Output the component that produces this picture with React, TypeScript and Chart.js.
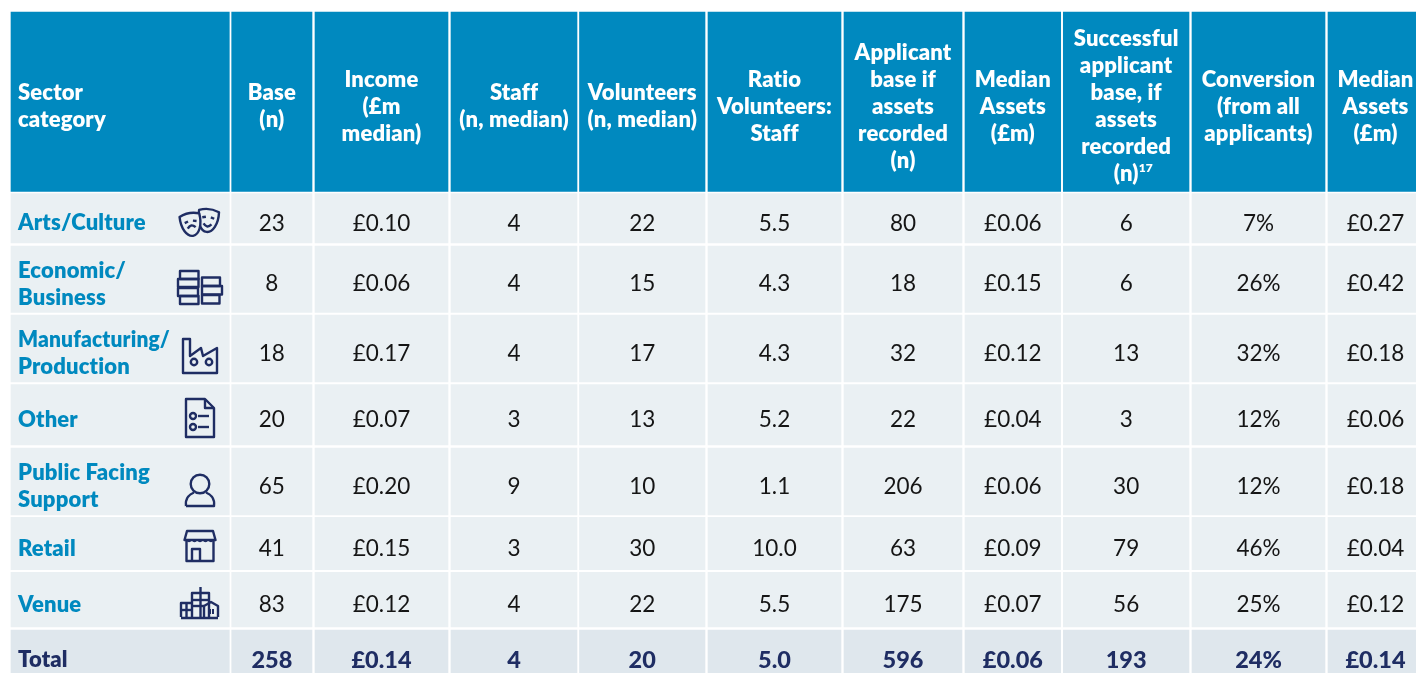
import React, { useEffect, useRef } from "react";
import { Chart, registerables } from "chart.js";

Chart.register(...registerables);

const sectorLabels = [["Arts/Culture"], ["Economic/", "Business"], ["Manufacturing/", "Production"], ["Other"], ["Public Facing", "Support"], ["Retail"], ["Venue"], ["Total"]];
const columnHeaders = [
  ["Sector", "category"],
  ["Base", "(n)"],
  ["Income", "(£m", "median)"],
  ["Staff", "(n, median)"],
  ["Volunteers", "(n, median)"],
  ["Ratio", "Volunteers:", "Staff"],
  ["Applicant", "base if", "assets", "recorded", "(n)"],
  ["Median", "Assets", "(£m)"],
  ["Successful", "applicant", "base, if", "assets", "recorded", "(n)"],
  ["Conversion", "(from all", "applicants)"],
  ["Median", "Assets", "(£m)"],
];
const base = ["23", "8", "18", "20", "65", "41", "83", "258"];
const income = ["£0.10", "£0.06", "£0.17", "£0.07", "£0.20", "£0.15", "£0.12", "£0.14"];
const staff = ["4", "4", "4", "3", "9", "3", "4", "4"];
const volunteers = ["22", "15", "17", "13", "10", "30", "22", "20"];
const ratio = ["5.5", "4.3", "4.3", "5.2", "1.1", "10.0", "5.5", "5.0"];
const applicantBase = ["80", "18", "32", "22", "206", "63", "175", "596"];
const medianAssetsApplicants = ["£0.06", "£0.15", "£0.12", "£0.04", "£0.06", "£0.09", "£0.07", "£0.06"];
const successfulBase = ["6", "6", "13", "3", "30", "79", "56", "193"];
const conversion = ["7%", "26%", "32%", "12%", "12%", "46%", "25%", "24%"];
const medianAssetsSuccessful = ["£0.27", "£0.42", "£0.18", "£0.06", "£0.18", "£0.04", "£0.12", "£0.14"];
const columns = [base, income, staff, volunteers, ratio, applicantBase, medianAssetsApplicants, successfulBase, conversion, medianAssetsSuccessful];

// table grid, in the units of the two linear scales
const colEdges = [[11, 229.3], [231.7, 312], [315, 448], [451, 577], [579.5, 705], [708, 841], [844, 962], [965, 1060.7], [1063.3, 1189], [1192, 1325], [1328, 1423]];
const rowEdges = [[12, 191.5], [193.5, 243], [246, 312.3], [315, 382], [384.7, 445], [448, 515], [517.3, 569.7], [572.3, 627], [630, 688]];

const HEADER = "#0089BF";
const CELL = "#EAF0F3";
const TOTAL = "#DFE7ED";
const NAVY = "#1F2D63";
const BODY = "#151515";
const FONT = "Lato";

type C = CanvasRenderingContext2D;
const line = (c: C, pts: number[][], close = false) => {
  c.beginPath();
  pts.forEach((p, i) => (i ? c.lineTo(p[0], p[1]) : c.moveTo(p[0], p[1])));
  if (close) c.closePath();
  c.stroke();
};
const ring = (c: C, x: number, y: number, r: number) => {
  c.beginPath();
  c.arc(x, y, r, 0, Math.PI * 2);
  c.stroke();
};
const mask = (c: C, x: number, y: number, rot: number, mouth: number) => {
  c.save();
  c.translate(x, y);
  c.rotate(rot);
  c.beginPath();
  c.moveTo(-10, -9);
  c.quadraticCurveTo(0, -13, 10, -9);
  c.bezierCurveTo(11, 3, 6, 12, 0, 12);
  c.bezierCurveTo(-6, 12, -11, 3, -10, -9);
  c.closePath();
  c.fillStyle = CELL;
  c.fill();
  c.stroke();
  line(c, [[-6, -2], [-2.5, -3]]);
  line(c, [[2.5, -3], [6, -2]]);
  c.beginPath();
  c.moveTo(-4, 4);
  c.quadraticCurveTo(0, 4 + mouth, 4, 4);
  c.stroke();
  c.restore();
};
const icons: ((c: C) => void)[] = [
  (c) => {
    mask(c, 8, -2, 0.12, 5);
    mask(c, -9, 2, -0.18, -5);
  },
  (c) => {
    [[-20, -17, 18.5], [-22, -9, 20.5], [-22, 0, 20], [-20, 8, 18.5]].forEach((r) => c.strokeRect(r[0], r[1], r[2], 8));
    [[2, -10.5, 18], [2, -2, 20], [2, 7, 17.5]].forEach((r) => c.strokeRect(r[0], r[1], r[2], 8.5));
  },
  (c) => {
    line(c, [[-17, -17], [-10, -17], [-10, 0], [1, -8], [3, 0], [17, -8], [17, 17], [-17, 17]], true);
    ring(c, -6, 6, 3.2);
    ring(c, 9, 6, 3.2);
  },
  (c) => {
    line(c, [[-14, -19], [5, -19], [14, -10], [14, 19], [-14, 19]], true);
    line(c, [[5, -19], [5, -10], [14, -10]]);
    ring(c, -7, -2, 3);
    line(c, [[-2, -2], [9, -2]]);
    ring(c, -7, 9, 3);
    line(c, [[-2, 9], [9, 9]]);
  },
  (c) => {
    ring(c, 0, -7, 9.3);
    c.beginPath();
    c.moveTo(-14, 15);
    c.bezierCurveTo(-15, 7, -10, 3, -6, 1.5);
    c.moveTo(6, 1.5);
    c.bezierCurveTo(10, 3, 15, 7, 14, 15);
    c.lineTo(-14, 15);
    c.stroke();
  },
  (c) => {
    line(c, [[-13, -15], [13, -15], [15.5, -6], [-15.5, -6]], true);
    c.fillStyle = NAVY;
    [-11, -5.5, 0, 5.5, 11].forEach((x) => {
      c.beginPath();
      c.arc(x, -6, 2.2, 0, Math.PI);
      c.fill();
    });
    line(c, [[-13.5, -5], [-13.5, 15], [13.5, 15], [13.5, -5]]);
    line(c, [[-8, 15], [-8, 3], [0, 3], [0, 15]]);
  },
  (c) => {
    line(c, [[-8, 14], [-8, -10], [9, -10], [9, 14]]);
    line(c, [[0.5, -10], [0.5, -16]]);
    line(c, [[-8, -3], [9, -3]]);
    line(c, [[-8, 3], [4, 3]]);
    line(c, [[0.5, -10], [0.5, 14]]);
    line(c, [[-19, 14], [-19, 0], [-8, 0]]);
    line(c, [[-19, 7], [-8, 7]]);
    line(c, [[-13.5, 0], [-13.5, 14]]);
    line(c, [[4, 14], [4, 3], [11, -1], [18, 3], [18, 14]]);
    line(c, [[-19, 15], [18, 15]]);
    c.fillStyle = NAVY;
    c.fillRect(9, 6, 2, 5);
    c.fillRect(12, 6, 2, 5);
  },
];
const iconX = 200;
const iconY = [222, 288, 356, 418, 491, 546, 603];

const cellTextPlugin = {
  id: "cellText",
  afterDatasetsDraw(chart: any) {
    const { ctx, scales } = chart;
    const X = (v: number) => scales.x.getPixelForValue(v);
    const Y = (v: number) => scales.y.getPixelForValue(v);
    const rowMid = (r: number) => (rowEdges[r][0] + rowEdges[r][1]) / 2;
    const colMid = (c: number) => (colEdges[c][0] + colEdges[c][1]) / 2;
    const LH = 27;
    const headFont = `800 22px ${FONT}`;
    ctx.save();
    ctx.textBaseline = "middle";
    ctx.letterSpacing = "0.15px";

    // header row
    ctx.fillStyle = "#FFFFFF";
    ctx.font = headFont;
    columnHeaders.forEach((lines, c) => {
      ctx.textAlign = c === 0 ? "left" : "center";
      const tx = c === 0 ? 18 : colMid(c);
      const top = 106.5 - ((lines.length - 1) * LH) / 2;
      lines.forEach((t, i) => {
        ctx.fillText(t, X(tx), Y(top + i * LH));
        if (c === 8 && i === lines.length - 1) {
          const w = ctx.measureText(t).width;
          ctx.font = `800 12px ${FONT}`;
          ctx.textAlign = "left";
          ctx.fillText("17", X(tx + w / 2), Y(top + i * LH - 6));
          ctx.font = headFont;
          ctx.textAlign = "center";
        }
      });
    });

    // sector labels
    sectorLabels.forEach((lines, r) => {
      const isTotal = r === sectorLabels.length - 1;
      ctx.textAlign = "left";
      ctx.font = headFont;
      ctx.fillStyle = isTotal ? NAVY : HEADER;
      const mid = isTotal ? 660 : rowMid(r + 1) + 5;
      lines.forEach((t, i) => {
        ctx.fillText(t, X(18), Y(mid + (i - (lines.length - 1) / 2) * LH), 152);
      });
    });

    // values
    ctx.textAlign = "center";
    ctx.letterSpacing = "0px";
    columns.forEach((col, c) => {
      col.forEach((t, r) => {
        const isTotal = r === col.length - 1;
        ctx.font = isTotal ? `900 23.5px ${FONT}` : `400 22.5px ${FONT}`;
        ctx.fillStyle = isTotal ? NAVY : BODY;
        ctx.fillText(t, X(colMid(c + 1)), Y(isTotal ? 660 : rowMid(r + 1) + 5));
      });
    });

    // sector pictograms
    ctx.strokeStyle = NAVY;
    ctx.lineWidth = 2.4;
    ctx.lineJoin = "round";
    icons.forEach((draw, i) => {
      ctx.save();
      ctx.translate(X(iconX), Y(iconY[i]));
      draw(ctx);
      ctx.restore();
    });
    ctx.restore();
  },
};

export default function App() {
  const ref = useRef<HTMLCanvasElement>(null);
  useEffect(() => {
    document.body.style.margin = "0";
    const datasets = rowEdges.map((edge, r) => ({
      label: r === 0 ? "Header" : sectorLabels[r - 1][0],
      data: colEdges.map((col) => ({ x: [col[0], col[1]], y: (edge[0] + edge[1]) / 2 })),
      barThickness: edge[1] - edge[0],
      grouped: false,
      backgroundColor: r === 0 ? HEADER : r === rowEdges.length - 1 ? TOTAL : CELL,
      borderWidth: 0,
      borderSkipped: false,
    }));
    const chart = new Chart(ref.current!, {
      type: "bar",
      data: { datasets } as any,
      options: {
        indexAxis: "y",
        animation: false,
        responsive: false,
        layout: { padding: 0 },
        plugins: { legend: { display: false }, tooltip: { enabled: false }, title: { display: false } },
        scales: {
          x: { type: "linear", min: 0, max: 1416, display: false },
          y: { type: "linear", min: 0, max: 673, reverse: true, offset: false, display: false },
        },
      } as any,
      plugins: [cellTextPlugin],
    });
    return () => chart.destroy();
  }, []);
  return <canvas ref={ref} width={1416} height={673} style={{ display: "block" }} />;
}
